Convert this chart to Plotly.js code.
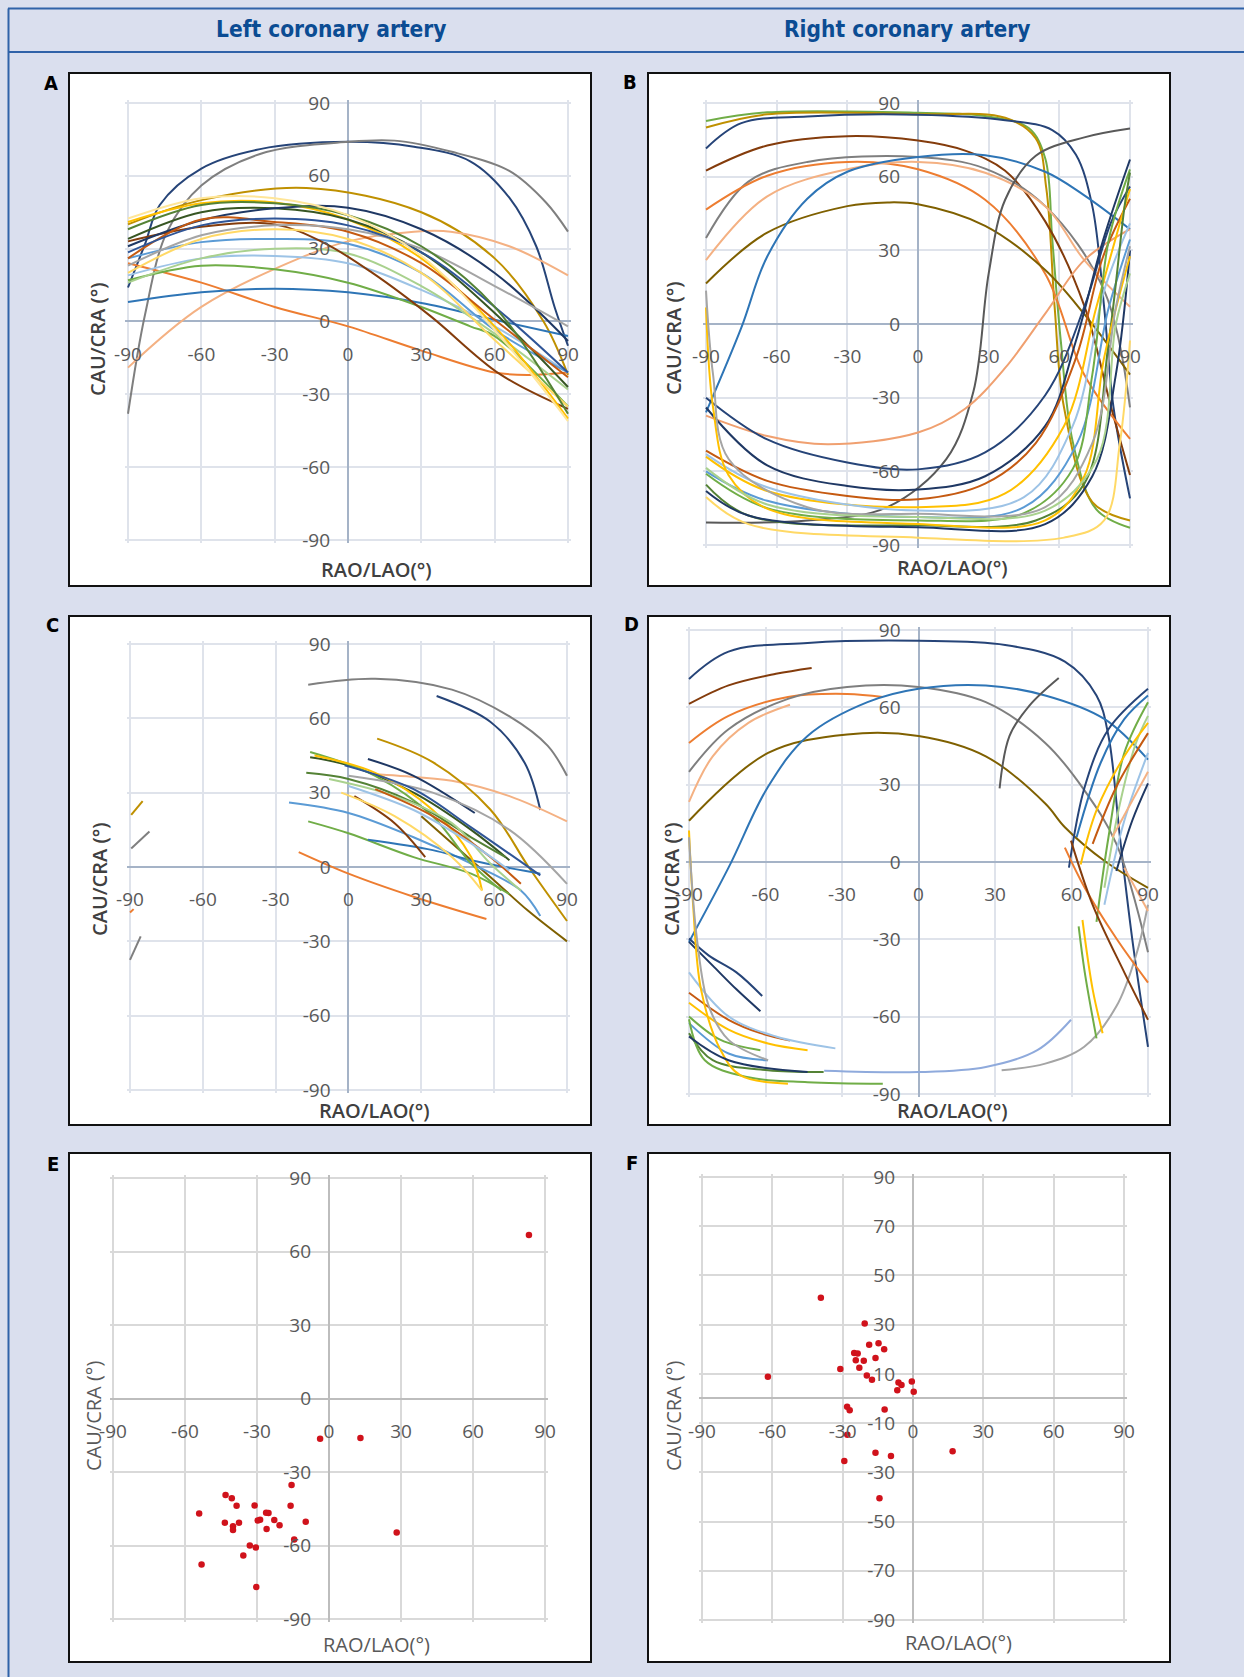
<!DOCTYPE html>
<html><head><meta charset="utf-8">
<script src="https://cdn.plot.ly/plotly-3.0.1.min.js"></script>
<style>html,body{margin:0;padding:0;background:#dadfee;}#chart{width:1244px;height:1677px;}</style>
</head><body><div id="chart"></div>
<script>
// ---------------- DATA ----------------
const headerLeft = 'Left coronary artery';
const headerRight = 'Right coronary artery';
const panelLetters = ['A','B','C','D','E','F'];
const xTitle = 'RAO/LAO(°)';
const yTitle = 'CAU/CRA (°)';
const tickVals30 = [-90,-60,-30,0,30,60,90];
const tickText30 = ['-90','-60','-30','0','30','60','90'];
const tickValsF = [-90,-70,-50,-30,-10,10,30,50,70,90];
const tickTextF = ['-90','-70','-50','-30','-10','10','30','50','70','90'];

// Panel A – full curves (left coronary artery)
const panelA_x = [
 [-90,-83,-77,-60,-36,0,27,50,66,77,84.5,90],
 [-90,-83,-74,-60,-36,0,19,42,66,81,90],
 [-90,-60,-17,30,60,80,90],
 [-90,-60,-20,0,27,42,66,90],
 [-90,-60,-30,0,30,60,74,90],
 [-90,-60,-30,0,30,60,90],
 [-90,-60,-30,0,30,50,60,90],
 [-90,-60,-30,0,30,60,90],
 [-90,-60,-30,0,30,60,90],
 [-90,-60,-30,0,30,60,90],
 [-90,-60,-30,-10,10,34,62,90],
 [-90,-60,-30,0,30,60,90],
 [-90,-60,-30,0,30,60,90],
 [-90,-60,-30,0,30,60,90],
 [-90,-60,-30,0,30,60,90],
 [-90,-60,-30,0,30,60,90],
 [-90,-60,-30,0,30,60,90],
 [-90,-60,-30,0,30,60,90],
 [-90,-60,-30,0,30,60,90],
 [-90,-60,-30,0,30,60,90]
];
const panelA_y = [
 [14,32,48,63,71,74,72,66,51,31,6,-10],
 [-38,3,37,56,69,74,74.5,70,62,49,37],
 [40,50,55,45,26,0,-22],
 [-19,6,26,33,37,37,31,19],
 [24,16,6,-2,-12,-21,-22,-21],
 [8,12,13.5,12,7.6,0.7,-6],
 [17,23,21.5,16,6,-2,-6,-35],
 [19,26,27,24,13,-2,-21],
 [16,26,30,28,14.6,-5,-28],
 [26,32.7,34,32,20,-3.5,-21],
 [33,39,40,32.5,20,2,-21.6,-36],
 [41,48.7,49,42,26,-2,-40],
 [20,34,38,34,20,-7.6,-35],
 [34,45,46.6,42,28.5,3.5,-27],
 [31,41.7,46.6,46.9,38,20,-8],
 [26,42,41,37,24,0.7,-23],
 [23,35.5,39.6,38,30,14.6,-2],
 [28.5,39.6,42.4,39.6,28.5,6,-21],
 [38,48,48.7,43.8,31,6,-38],
 [42.4,50.8,50.8,43.8,27,-3.5,-41]
];

// Panel B – full curves (right coronary artery)
const panelB_x = [
 [-90,-64,0,28.5,47,54,57,60.6,65.7,75.7,90],
 [-90,-64,0,37,50,54.5,58,62,74,90],
 [-90,-75,-47,0,37,57,67,74,79,83,90],
 [-90,-64,-30,0,20,37,54,70.6,82,90],
 [-90,-72,-47,0,28.5,54,79,90],
 [-90,-64,-30,0,28.5,54,70.6,90],
 [-90,-64,-30,0,28.5,54,70.6,90],
 [-90,-64,-30,-13,0,28.5,54,70.6,90],
 [-90,-75,-64,-47,-30,0,28.5,54,70.6,90],
 [-90,-47,-13,12,23.5,30,37,50,70.6,90],
 [-90,-64,-38.5,0,20,37,54,70.6,90],
 [-90,-64,-30,0,28.5,54,70.6,82,90],
 [-90,-64,-30,0,28.5,54,67,78.6,90],
 [-90,-64,-30,0,28.5,50,67,78.6,90],
 [-90,-64,0,37,62,75.7,85.7,90],
 [-90,-64,0,45,65.7,79,90],
 [-90,-64,0,45,67.6,81,90],
 [-90,-64,0,45,65.7,74,81,90],
 [-90,-72,0,50,70.6,81,87.7,90],
 [-90,-72,0,54,74,84,90],
 [-90,-72,0,62,79,85.7,90],
 [-90,-87,-80.4,-63.6,0,54,70.6,79,90],
 [-90,-87,-80.4,-47,0,54,74,84,90],
 [-90,-64,0,54,76,84,90]
];
const panelB_y = [
 [82.7,86.2,86,84.7,79.8,67.5,34.5,-6.7,-48,-75.5,-83],
 [80,85.4,85.4,84,75.6,55,7,-34,-72.5,-80],
 [71.5,81.8,84.5,85.2,83,79,69,48,7,-34,-71],
 [62.5,72.7,76.5,74.7,70.6,62.4,41.8,7.4,-34,-61.5],
 [35,58,66,68,63.3,48,13.7,-34],
 [46.6,60.4,66,63,50.6,20.5,-20.7,-46.8],
 [26,52,63,66,61.6,48,26,7],
 [16.5,37.2,48,49.5,48.8,40,22,4,-20.6],
 [-36,-1.5,27.5,51,62,68,68.7,62,52.4,38.6],
 [-80.8,-80,-74.6,-55,-27.6,20.5,50.6,68.5,76,79.6],
 [-37.3,-45.6,-49,-44.2,-34.5,-17.9,4.2,26,38.6],
 [-30,-47,-56.4,-59.2,-52.3,-29,7,41.5,56],
 [-34,-57.6,-66,-67.4,-62,-41.5,-7,34.2,67],
 [-51.6,-63.9,-70,-71.4,-65,-48.5,-14,27.5,51],
 [-54,-68,-74.6,-69,-41.5,6.8,41,55],
 [-53,-66.5,-76,-70.5,-41.5,13.6,41],
 [-60,-72,-78.6,-74.6,-48.5,6.8,34.4],
 [-61,-75,-80,-77,-59,-20.6,34.4,63],
 [-65.4,-78,-82,-80,-65,-7,48,61.7],
 [-68,-78,-82.8,-81.5,-62,-20.6,30],
 [-70.5,-81.5,-87,-87,-80,-48.5,-6.7],
 [6.7,-34,-61.6,-75.4,-81.4,-80,-62,-13.8,27.6],
 [13.6,-20.6,-55,-74.6,-77.3,-74.6,-48.5,6.8,31.7],
 [-58.6,-73.5,-78.6,-76,-55,0,20.6]
];

// Panel C – partial curves (left coronary artery)
const panelC_x = [
 [-16.6,11,42.6,66.3,82,90],
 [36.3,58.4,72.6,79],
 [10,20.5,42.6,66.3,90],
 [11.8,34.7,58.4,74.2,90],
 [30,58.4,74,90],
 [-16.6,0,26.8,50.5,66.3],
 [-24.5,0,26.8,50.5,71,79],
 [-20.5,0,26.8,56.8],
 [8,34.7,50.5,79],
 [2.4,19,31.6],
 [-15.8,0,26.8,50.5,66.3],
 [-15.8,11,34.7,50.5,63],
 [-14,11,34.7,50.5,55],
 [8,26.8,52],
 [-17.4,0,26.8,50.5,64.7],
 [-8,19,42.6,58.4,71],
 [11,34.7,58.4,71],
 [0,26.8,50.5,66.3],
 [0,34.7,66.3,90],
 [-3,19,42.6,55],
 [-1.6,26.8,50.5,79],
 [-89.5,-84.8],
 [-89.5,-82],
 [-90,-88.5],
 [-90,-85.6]
];
const panelC_y = [
 [73.6,76,71.6,60.8,49,36.8],
 [69,58.6,42,23],
 [37.5,36.8,34.8,28.6,18.4],
 [51.8,42.3,23.2,0,-21.8],
 [20.5,-4,-17.7,-30],
 [18.4,13.6,4,-2.7,-11],
 [26,21.8,12,1.4,-9.5,-19.8],
 [6,-2.7,-12,-21],
 [11,6.8,2.7,-2.7],
 [28.6,17.7,4],
 [44.3,41,30,15,2.7],
 [46.4,36.8,20.5,1.4,-9.5],
 [45,38,23,4,-9.5],
 [43.6,36.8,21.8],
 [38,35.5,26,12,4],
 [35.5,28.6,17.7,1.4,-9.5],
 [31.4,20.5,4,-6.8],
 [32.7,23,9.5,-1.4],
 [36.8,30,15,-6.8],
 [30,20.5,4,-9.5],
 [41,31.4,16,-3.4],
 [21,26.6],
 [7.5,14.3],
 [-18.4,-17],
 [-37.5,-28]
];

// Panel D – partial curves (right coronary artery)
const panelD_x = [
 [-90,-74.5,-43.5,0,34,57.4,69.8,74.5,79,83.8,90],
 [-90,-74.5,-55.9,-41.9],
 [-90,-74.5,-51.2,-28,-14],
 [-90,-80.7,-66.7,-50.4],
 [-90,-74.5,-51.2,-28,0,26.4,49.7,65,77.6,90],
 [-90,-59,-28,0,26.4,49.7,57.4,73,90],
 [-90,-74.5,-59,-43.5,-20,0,26.4,49.7,73,90],
 [31.8,35.7,43.5,55],
 [-37,0,26.4,46.6,59.8],
 [32.6,49.7,65,77.6,85.3,90],
 [-90,-82.2,-71.4,-61.3],
 [-90,-80.7,-71.4,-62],
 [-90,-74.5,-62,-50.4],
 [-90,-74.5,-59,-43.5],
 [-90,-74.5,-55.9,-32.6],
 [-90,-77.6,-62],
 [-90,-74.5,-59],
 [-90,-80.7,-59,-37.2],
 [-90,-83.8,-66.7,-43.5,-14],
 [-90,-88.4,-85.3,-77.6,-69.8,-51.2],
 [-90,-86.9,-82.2,-74.5,-59],
 [-90,-74.5,-43.5],
 [59,65.2,74.5,90],
 [62,71.4,80.7,90],
 [69.8,74.5,80.7,90],
 [72.9,79,85.3,90],
 [63.6,69.8,80.7,90],
 [68.3,77.6,90],
 [72.9,80.7,90],
 [77.6,83.8,90],
 [76,90],
 [57.4,65.2,77.6,90],
 [59.8,68.3,80.7,90],
 [62.8,65.2,69.8],
 [64.3,68.3,72.2],
 [80.7,90]
];
const panelD_y = [
 [71,81.6,85,85.8,84.2,77.7,64.6,48.9,9.6,-29.7,-71.7],
 [61.3,68.5,73,75.3],
 [46.2,56.7,64,65.2,64],
 [23.3,41,54,61],
 [35,51.5,63.3,67.9,67.9,62,46.2,27.9,7,-35],
 [16,42.3,49.5,48.9,41,22.7,13.5,0.4,-10],
 [-31,-2.2,29.2,48.9,62,67.2,68.5,64.6,55.4,39.7],
 [28.6,48.9,60.7,71.4],
 [-81,-81.5,-79.5,-73,-61.2],
 [-80.8,-78.2,-71.7,-56,-36.3,-16.6],
 [-29.7,-36.3,-42.8,-52],
 [-31,-40.2,-49.4,-57.9],
 [-50.7,-61.2,-66.4,-69.3],
 [-54.6,-65,-70.4,-73],
 [-42.8,-59.9,-67.7,-72.3],
 [-59.9,-69,-73],
 [-62.5,-74.3,-76.9],
 [-66.4,-76.9,-80.8,-81.5],
 [-61,-76.9,-83.5,-85.4,-86],
 [12.2,-16.6,-49.4,-73,-82.8,-86],
 [9.6,-29.7,-56,-69,-76.9],
 [-67.7,-76.9,-81.5],
 [-2.2,29.2,51.5,67.2],
 [9.6,38.4,55.4,64.6],
 [-23.2,9.6,42.3,62],
 [-10,22.7,46.2,56.7],
 [-1,20,41,54],
 [7,29.2,50],
 [-16.6,16,42.3],
 [-3.5,16,30.5],
 [9.6,35],
 [5.6,-10,-29.7,-46.8],
 [8.3,-16.6,-42.8,-61.2],
 [-25,-42.8,-68.4],
 [-22.5,-49.4,-66.4],
 [-2.2,-19]
];

// Panel E – optimal views, left coronary artery
const panelE_x = [83.3,-3.7,13.1,28.2,-15.6,-16,-14.5,-9.7,-20.6,-22.8,-25.2,-26.2,-26,-28.7,-29.7,-31,-33,-30.5,-35.7,-30.3,-37.5,-38.5,-40,-40,-40.5,-43.1,-43.4,-54.1,-53.1];
const panelE_y = [66.7,-16.4,-16.1,-54.7,-35.3,-43.8,-57.5,-50.3,-51.7,-49.6,-46.7,-46.6,-53.3,-49.5,-49.8,-43.7,-60,-60.8,-64.1,-76.9,-50.7,-43.8,-52.1,-53.7,-40.7,-39.4,-50.7,-46.9,-67.8];

// Panel F – optimal views, right coronary artery
const panelF_x = [-39.3,-61.9,-31,-20.6,-18.7,-14.7,-12.3,-16,-25.1,-23.6,-24.4,-21,-22.9,-19.7,-17.5,-6.2,-4.9,-6.7,-0.5,0.3,-28.1,-27,-12.1,-28,-29.3,-16,-9.4,-14.3,16.9];
const panelF_y = [40.9,8.8,12,30.5,21.8,22.5,20,16.5,18.5,18.3,15.5,15.3,12.5,9.3,7.6,6.5,5.5,3.4,6.9,2.7,-3.4,-4.8,-4.5,-14.7,-25.4,-22,-23.4,-40.5,-21.4];

// ---------------- STYLES ----------------
const C = {navy:'#264478',dkblue:'#1f3864',blue:'#2e75b6',ltblue:'#5b9bd5',pale:'#9dc3e6',peri:'#8faadc',
  gray:'#7f7f7f',dkgray:'#595959',ltgray:'#a5a5a5',gold:'#bf9000',yellow:'#ffc000',ltyellow:'#ffd966',
  olive:'#7f6000',orange:'#ed7d31',ltorange:'#f4b183',rust:'#c55a11',brown:'#843c0c',green:'#70ad47',
  dkgreen:'#548235',dkgreen2:'#375623',ltgreen:'#a9d18e',blue2:'#2f5597'};
const colorsA = [C.navy,C.gray,C.gold,C.ltorange,C.orange,C.blue,C.green,C.pale,C.ltgreen,C.ltblue,C.brown,C.yellow,C.ltyellow,C.dkgreen2,C.dkblue,C.rust,C.ltgray,C.blue2,C.dkgreen,'#ffe699'];
const colorsB = [C.green,C.gold,C.navy,C.brown,C.gray,C.orange,C.ltorange,C.olive,C.blue,C.dkgray,'#f0a070',C.navy,C.dkblue,C.rust,C.yellow,C.pale,C.ltblue,C.green,C.dkgreen,C.dkblue,C.ltyellow,C.yellow,C.ltgray,C.ltgreen];
const colorsC = [C.gray,C.navy,C.ltorange,C.gold,C.olive,C.green,C.ltblue,C.orange,C.blue,C.brown,C.dkgreen2,C.green,C.yellow,C.dkblue,C.dkgreen,C.ltgreen,C.rust,C.pale,C.ltgray,C.ltyellow,C.blue2,C.gold,C.gray,C.orange,C.gray];
const colorsD = [C.navy,C.brown,C.orange,C.ltorange,C.gray,C.olive,C.blue,C.dkgray,C.peri,C.ltgray,C.navy,C.dkblue,C.rust,C.yellow,C.pale,C.green,C.ltblue,C.dkgreen,C.green,C.yellow,C.ltgray,C.dkblue,C.navy,C.blue,C.green,C.ltgreen,C.yellow,C.rust,C.pale,C.dkblue,C.ltorange,C.orange,C.brown,C.green,C.yellow,C.ltorange];

const W = 1244, H = 1677;
const px = v => v / W, py = v => 1 - v / H;
// panel geometry in pixels: plot area (for -90..90) and outer box
const panels = [
 {plot:[128,103,568,540],  box:[69,73,591,586],   let:[51,83],   xt:[376,569],  yt:[97,339],  light:false},
 {plot:[706,103,1130,545], box:[648,73,1170,586], let:[630,82],  xt:[952,567],  yt:[673,338], light:false},
 {plot:[130,644,567,1090], box:[69,616,591,1125], let:[52,625],  xt:[374,1110], yt:[99,879],  light:false},
 {plot:[689,630,1148,1094],box:[648,616,1170,1125],let:[631,624], xt:[952,1110], yt:[671,879], light:false},
 {plot:[113,1178,545,1619],box:[69,1153,591,1662], let:[53,1164], xt:[376,1644], yt:[93,1416], light:true},
 {plot:[702,1177,1124,1620],box:[648,1153,1170,1662],let:[632,1163],xt:[958,1642], yt:[673,1416], light:true}
];
const PAD = 1.2; // degrees of padding so the ±90 grid lines are drawn

const tickFont = {family:'Open Sans, sans-serif', size:19, color:'#595959'};
const layout = {
  width:W, height:H, margin:{l:0,r:0,t:0,b:0},
  paper_bgcolor:'#dadfee', plot_bgcolor:'#ffffff', showlegend:false,
  shapes:[], annotations:[]
};
const blueLine = '#2f62a8';
layout.shapes.push({type:'line',xref:'paper',yref:'paper',x0:px(8),x1:1,y0:py(8.5),y1:py(8.5),line:{color:blueLine,width:2}});
layout.shapes.push({type:'line',xref:'paper',yref:'paper',x0:px(8),x1:1,y0:py(52),y1:py(52),line:{color:blueLine,width:2}});
layout.shapes.push({type:'line',xref:'paper',yref:'paper',x0:px(8.5),x1:px(8.5),y0:py(8.5),y1:0,line:{color:blueLine,width:2}});
const condFont = 'Liberation Sans Narrow, Arial Narrow, DejaVu Sans Condensed, sans-serif';
layout.annotations.push({xref:'paper',yref:'paper',x:px(331),y:py(29),text:headerLeft,showarrow:false,xanchor:'center',yanchor:'middle',font:{family:condFont,size:22.5,color:'#0b4c93',weight:700}});
layout.annotations.push({xref:'paper',yref:'paper',x:px(907),y:py(29),text:headerRight,showarrow:false,xanchor:'center',yanchor:'middle',font:{family:condFont,size:22.5,color:'#0b4c93',weight:700}});

panels.forEach((p,i)=>{
  const n = i===0 ? '' : String(i+1);
  const [x0,y0,x1,y1] = p.plot;
  const ex = PAD*(x1-x0)/180, ey = PAD*(y1-y0)/180;
  const light = p.light;
  const grid = light ? '#d9d9d9' : '#dfe3eb';
  const zero = light ? '#bdbdbd' : '#a5b3c7';
  const isF = i===5;
  layout['xaxis'+n] = {domain:[px(x0-ex),px(x1+ex)], range:[-90-PAD,90+PAD], anchor:'free', position:py((y0+y1)/2),
    tickmode:'array', tickvals:tickVals30, ticktext:tickText30, ticks:'', ticklabelstandoff:19,
    showgrid:true, gridcolor:grid, gridwidth:2, zeroline:true, zerolinecolor:zero, zerolinewidth:2,
    showline:false, tickfont:tickFont, fixedrange:true};
  layout['yaxis'+n] = {domain:[py(y1+ey),py(y0-ey)], range:[-90-PAD,90+PAD], anchor:'free', position:px((x0+x1)/2),
    tickmode:'array', tickvals: isF ? tickValsF : tickVals30, ticktext: isF ? tickTextF : tickText30,
    ticks:'', ticklabelstandoff:18,
    showgrid:true, gridcolor:grid, gridwidth:2, zeroline:true, zerolinecolor:zero, zerolinewidth:2,
    showline:false, tickfont:tickFont, fixedrange:true};
  const [bx0,by0,bx1,by1] = p.box;
  layout.shapes.push({type:'rect',xref:'paper',yref:'paper',layer:'below',x0:px(bx0),x1:px(bx1),y0:py(by1),y1:py(by0),fillcolor:'#ffffff',line:{color:'#111111',width:2}});
  layout.annotations.push({xref:'paper',yref:'paper',x:px(p.let[0]),y:py(p.let[1]),text:panelLetters[i],showarrow:false,xanchor:'center',yanchor:'middle',font:{family:condFont,size:20,color:'#000000',weight:700}});
  const tfont = light ? {family:'Open Sans, sans-serif',size:20,color:'#595959'} : {family:'Open Sans, sans-serif',size:20,color:'#404040',weight:600};
  layout.annotations.push({xref:'paper',yref:'paper',x:px(p.xt[0]),y:py(p.xt[1]),text:xTitle,showarrow:false,xanchor:'center',yanchor:'middle',font:tfont});
  layout.annotations.push({xref:'paper',yref:'paper',x:px(p.yt[0]),y:py(p.yt[1]),text:yTitle,showarrow:false,xanchor:'center',yanchor:'middle',textangle:-90,font:tfont});
});

function lines(xs, ys, colors, k){
  const n = k===1 ? '' : String(k);
  return xs.map((x,i)=>({type:'scatter',mode:'lines',x:x,y:ys[i],xaxis:'x'+n,yaxis:'y'+n,
    line:{color:colors[i%colors.length],width:2,shape:'spline',smoothing:1},hoverinfo:'skip'}));
}
function dots(xs, ys, k){
  return [{type:'scatter',mode:'markers',x:xs,y:ys,xaxis:'x'+k,yaxis:'y'+k,
    marker:{color:'#d0121b',size:6.5},hoverinfo:'skip'}];
}
const data = [].concat(
  lines(panelA_x,panelA_y,colorsA,1),
  lines(panelB_x,panelB_y,colorsB,2),
  lines(panelC_x,panelC_y,colorsC,3),
  lines(panelD_x,panelD_y,colorsD,4),
  dots(panelE_x,panelE_y,5),
  dots(panelF_x,panelF_y,6)
);
Plotly.newPlot('chart', data, layout, {staticPlot:true, displayModeBar:false});
</script></body></html>
